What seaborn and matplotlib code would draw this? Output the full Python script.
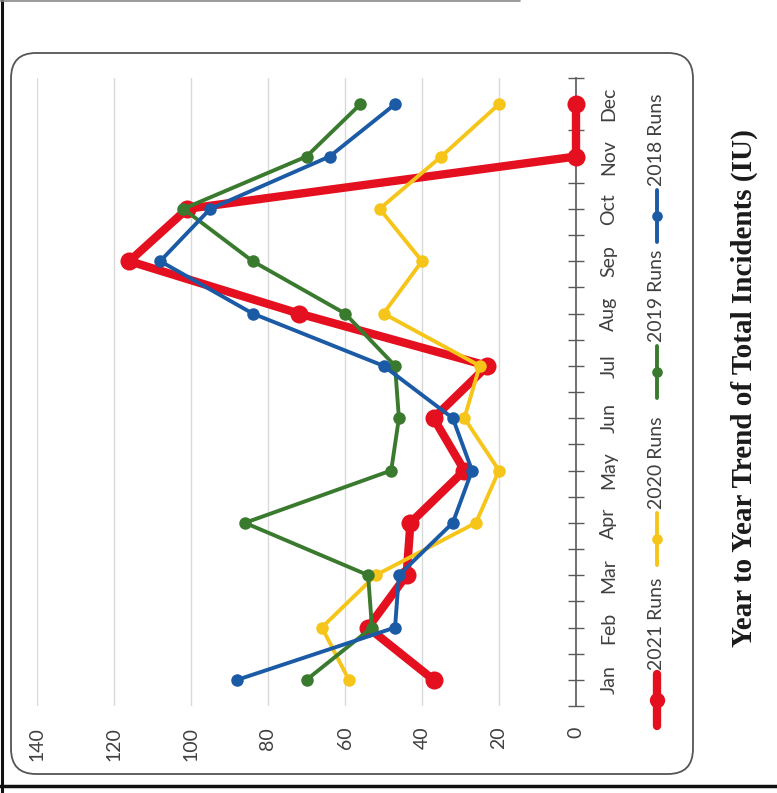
import numpy as np
import pandas as pd
import seaborn as sns
import matplotlib.pyplot as plt
from matplotlib.lines import Line2D
from matplotlib.patches import FancyBboxPatch

months = ['Jan', 'Feb', 'Mar', 'Apr', 'May', 'Jun',
          'Jul', 'Aug', 'Sep', 'Oct', 'Nov', 'Dec']
runs_2021 = [37, 54, 44, 43, 29, 37, 23, 72, 116, 101, 0, 0]
runs_2020 = [59, 66, 52, 26, 20, 29, 25, 50, 40, 51, 35, 20]
runs_2019 = [70, 53, 54, 86, 48, 46, 47, 60, 84, 102, 70, 56]
runs_2018 = [88, 47, 46, 32, 27, 32, 50, 84, 108, 95, 64, 47]
series_names = ['2021 Runs', '2020 Runs', '2019 Runs', '2018 Runs']
value_ticks = [0, 20, 40, 60, 80, 100, 120, 140]
title = 'Year to Year Trend of Total Incidents (IU)'

colors = {'2021 Runs': '#E4101F', '2020 Runs': '#F6C519',
          '2019 Runs': '#3A7A2E', '2018 Runs': '#1B5AA5'}
widths = {'2021 Runs': 6.0, '2020 Runs': 2.8, '2019 Runs': 2.8, '2018 Runs': 2.8}
msizes = {'2021 Runs': 13, '2020 Runs': 9, '2019 Runs': 9, '2018 Runs': 9}

df = pd.DataFrame({
    'pos': list(range(len(months))) * 4,
    'runs': runs_2021 + runs_2020 + runs_2019 + runs_2018,
    'series': [s for s in series_names for _ in months],
})

sns.set_style('white')
plt.rcParams['font.family'] = ['Lato', 'DejaVu Sans']

W, H = 777, 793
fig = plt.figure(figsize=(W / 100, H / 100), dpi=100)


def fx(px):
    return px / W


def fy(py):
    return 1 - py / H


# page edges of the scan
fig.add_artist(Line2D([fx(2), fx(2)], [0, 1], color='#111111', lw=2.2))
fig.add_artist(Line2D([0, 1], [fy(786), fy(786)], color='#111111', lw=2.5))
fig.add_artist(Line2D([0, fx(520)], [fy(1), fy(1)], color='#888888', lw=1.2))

# rounded chart frame
frame = FancyBboxPatch((fx(11), fy(774)), fx(693) - fx(11), fy(53) - fy(774),
                       boxstyle='round,pad=0,rounding_size=0.032',
                       transform=fig.transFigure, facecolor='none',
                       edgecolor='#555555', lw=1.3)
fig.add_artist(frame)

ax = fig.add_axes([fx(37), fy(706), fx(576) - fx(37), fy(78) - fy(706)])

for name in series_names:
    sub = df[df['series'] == name]
    sns.lineplot(data=sub, x='runs', y='pos', orient='y', ax=ax,
                 color=colors[name], linewidth=widths[name], marker='o',
                 markersize=msizes[name], markeredgewidth=0,
                 errorbar=None, legend=False, clip_on=False, zorder=3)

ax.set_xlim(140, 0)
ax.set_ylim(-0.5, 11.5)
ax.set_xlabel('')
ax.set_ylabel('')

ax.set_xticks(value_ticks)
ax.set_xticklabels([str(v) for v in value_ticks], rotation=90,
                   fontsize=14, color='#404040')
ax.tick_params(axis='x', length=0, pad=15)
ax.grid(axis='x', color='#d9d9d9', lw=1)
ax.grid(axis='y', visible=False)

ax.yaxis.tick_right()
ax.set_yticks(range(len(months)))
ax.set_yticklabels(months, rotation=90, va='center', fontsize=14, color='#404040')
ax.set_yticks(np.arange(-0.5, len(months), 1), minor=True)
ax.tick_params(axis='y', which='both', direction='inout', length=11,
               width=1, color='#595959', pad=12)

for side in ['top', 'bottom', 'left']:
    ax.spines[side].set_visible(False)
ax.spines['right'].set_color('#595959')
ax.spines['right'].set_linewidth(1.2)

# legend, drawn vertically to follow the rotation
handle_mid = {'2021 Runs': 700, '2020 Runs': 539, '2019 Runs': 372, '2018 Runs': 216}
for name in series_names:
    c = handle_mid[name]
    fig.add_artist(Line2D([fx(657), fx(657)], [fy(c + 26), fy(c - 26)],
                          color=colors[name], lw=widths[name]))
    fig.add_artist(Line2D([fx(657)], [fy(c)], color=colors[name], marker='o',
                          markersize=msizes[name] * 0.85, markeredgewidth=0))
    fig.text(fx(657), fy(c - 30), name, rotation=90, ha='center', va='bottom',
             fontsize=14, color='#404040')

fig.text(fx(744), fy(388), title, rotation=90, ha='center', va='center',
         fontfamily='Liberation Serif', fontweight='bold', fontsize=21,
         color='#1a1a1a')

fig.savefig('out.png', dpi=100)
